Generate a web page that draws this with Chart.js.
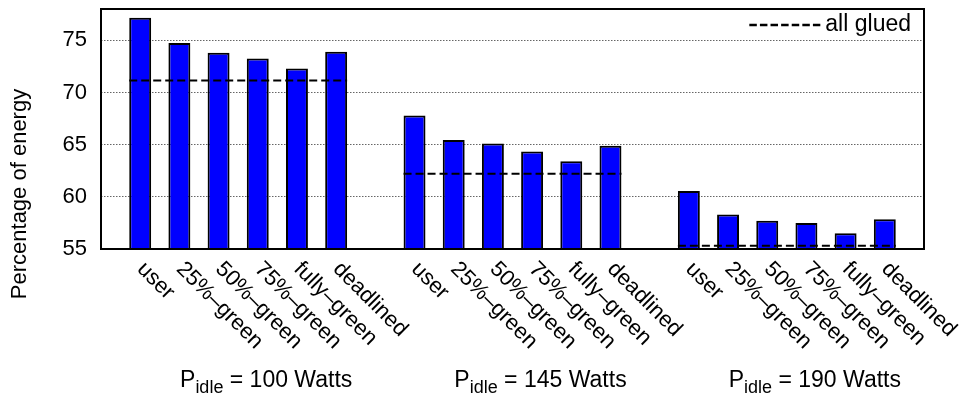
<!DOCTYPE html>
<html>
<head>
<meta charset="utf-8">
<script src="https://cdn.jsdelivr.net/npm/chart.js@4.4.0/dist/chart.umd.min.js"></script>
<style>
  body { margin: 0; background: #fff; }
  #wrap { width: 962px; height: 397px; }
</style>
</head>
<body>
<div id="wrap"><canvas id="myChart"></canvas></div>
<script>
// scheduling policies, one bar each, repeated for every idle power
var policies = ['user', '25%\u2013green', '50%\u2013green', '75%\u2013green', 'fully\u2013green', 'deadlined'];
var idlePower = [100, 145, 190];
var energy100 = [77.15, 74.75, 73.8, 73.25, 72.3, 73.9];
var energy145 = [67.8, 65.45, 65.1, 64.35, 63.4, 64.9];
var energy190 = [60.55, 58.3, 57.7, 57.5, 56.5, 57.85];
var allGlued = [71.15, 62.2, 55.3];
var yMin = 55, yMax = 78, yStep = 5;

var font = '"Liberation Sans", Arial, sans-serif';

// category slots: one empty slot at both ends and between the groups
var labels = [''];
var values = [null];
var groupSlots = [];
[energy100, energy145, energy190].forEach(function (group) {
    var slots = [];
    group.forEach(function (v, i) {
        slots.push(labels.length);
        labels.push(policies[i]);
        values.push(v);
    });
    groupSlots.push(slots);
    labels.push('');
    values.push(null);
});

var decorations = {
    id: 'decorations',
    afterDraw: function (chart) {
        var ctx = chart.ctx;
        var area = chart.chartArea;
        var xs = chart.scales.x;
        var ys = chart.scales.y;
        var bars = chart.getDatasetMeta(0).data;
        ctx.save();

        // "all glued" level per group
        ctx.strokeStyle = '#000';
        ctx.lineWidth = 2;
        ctx.setLineDash([8, 4]);
        groupSlots.forEach(function (slots, g) {
            var first = bars[slots[0]];
            var last = bars[slots[slots.length - 1]];
            var yy = ys.getPixelForValue(allGlued[g]);
            ctx.beginPath();
            ctx.moveTo(first.x - first.width / 2, yy);
            ctx.lineTo(last.x + last.width / 2, yy);
            ctx.stroke();
        });

        // frame
        ctx.setLineDash([]);
        ctx.strokeRect(area.left, area.top, area.right - area.left, area.bottom - area.top);

        // legend
        ctx.font = '23px ' + font;
        ctx.fillStyle = '#000';
        ctx.textAlign = 'right';
        ctx.textBaseline = 'middle';
        var ly = area.top + 16;
        var tx = area.right - 13;
        ctx.fillText('all glued', tx, ly);
        var tw = ctx.measureText('all glued').width;
        ctx.lineWidth = 2.5;
        ctx.setLineDash([7.5, 3.1]);
        ctx.beginPath();
        ctx.moveTo(tx - tw - 76, ly);
        ctx.lineTo(tx - tw - 5, ly);
        ctx.stroke();
        ctx.setLineDash([]);

        // rotated category labels
        ctx.font = '22px ' + font;
        ctx.textAlign = 'left';
        ctx.textBaseline = 'alphabetic';
        labels.forEach(function (lab, i) {
            if (!lab) return;
            var px = xs.getPixelForValue(i);
            ctx.save();
            ctx.translate(px - 4, area.bottom + 21);
            ctx.rotate(Math.PI / 4);
            ctx.fillText(lab, 0, 0);
            ctx.restore();
        });

        // group labels  P_idle = N Watts
        groupSlots.forEach(function (slots, g) {
            var cx = (xs.getPixelForValue(slots[0]) + xs.getPixelForValue(slots[slots.length - 1])) / 2 + 28;
            var base = 387;
            var rest = ' = ' + idlePower[g] + ' Watts';
            ctx.font = '23px ' + font;
            var wP = ctx.measureText('P').width;
            var wR = ctx.measureText(rest).width;
            ctx.font = '18px ' + font;
            var wS = ctx.measureText('idle').width;
            var sx = cx - (wP + wS + wR) / 2;
            ctx.font = '23px ' + font;
            ctx.fillText('P', sx, base);
            ctx.font = '18px ' + font;
            ctx.fillText('idle', sx + wP, base + 6);
            ctx.font = '23px ' + font;
            ctx.fillText(rest, sx + wP + wS, base);
        });

        // y title
        ctx.font = '22px ' + font;
        ctx.save();
        ctx.translate(20, 194);
        ctx.rotate(-Math.PI / 2);
        ctx.textAlign = 'center';
        ctx.textBaseline = 'middle';
        ctx.fillText('Percentage of energy', 0, 0);
        ctx.restore();

        ctx.restore();
    }
};

var ctx = document.getElementById('myChart').getContext('2d');
var chart = new Chart(ctx, {
    type: 'bar',
    data: {
        labels: labels,
        datasets: [{
            data: values,
            backgroundColor: '#0000ff',
            borderColor: '#000',
            borderWidth: 2,
            barPercentage: 0.56,
            categoryPercentage: 1
        }]
    },
    options: {
        responsive: true,
        maintainAspectRatio: false,
        animation: false,
        layout: { padding: { left: 0, right: 38, top: 9, bottom: 0 } },
        plugins: {
            legend: { display: false },
            tooltip: { enabled: false }
        },
        scales: {
            x: {
                offset: false,
                grid: { display: false },
                border: { display: false },
                ticks: { display: false },
                afterFit: function (axis) {
                    axis.height = 148;
                    axis.paddingLeft = 0;
                    axis.paddingRight = 0;
                }
            },
            y: {
                min: yMin,
                max: yMax,
                grid: { color: '#666', lineWidth: 1, drawTicks: false },
                border: { display: false, dash: [1.5, 1.5] },
                ticks: {
                    stepSize: yStep,
                    includeBounds: false,
                    padding: 14,
                    color: '#000',
                    font: { family: font, size: 22 }
                },
                afterFit: function (axis) {
                    axis.width = 101;
                    axis.paddingTop = 0;
                    axis.paddingBottom = 0;
                }
            }
        }
    },
    plugins: [decorations]
});
</script>
</body>
</html>
